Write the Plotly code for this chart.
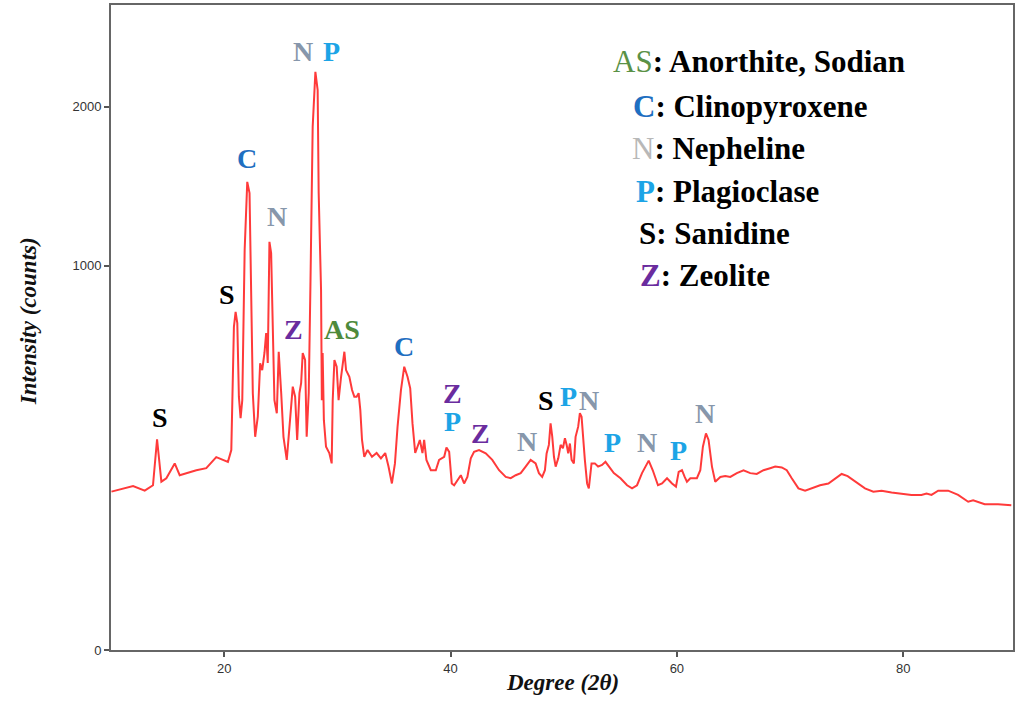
import numpy as np
import plotly.graph_objects as go

# XRD pattern: diffraction angle (degrees 2-theta) and intensity (counts)
two_theta = [
    10.04, 11.95, 12.98, 13.71, 14.07, 14.45, 14.89, 15.63, 16.07, 17.54,
    18.42, 19.30, 20.33, 20.63, 20.86, 21.01, 21.16, 21.30, 21.45, 21.60,
    21.81, 22.04, 22.24, 22.39, 22.53, 22.74, 22.97, 23.18, 23.36, 23.56,
    23.71, 23.85, 24.00, 24.15, 24.29, 24.44, 24.65, 24.82, 25.04, 25.24,
    25.53, 25.77, 26.06, 26.27, 26.45, 26.65, 26.80, 26.94, 27.15, 27.29,
    27.47, 27.62, 27.82, 28.06, 28.26, 28.35, 28.56, 28.63, 28.70, 28.81,
    29.00, 29.29, 29.50, 29.59, 29.74, 29.94, 30.11, 30.33, 30.62, 30.77,
    31.06, 31.30, 31.50, 31.70, 31.88, 32.03, 32.18, 32.38, 32.67, 33.06,
    33.47, 33.85, 34.23, 34.52, 34.82, 35.09, 35.32, 35.62, 35.91, 36.20,
    36.44, 36.64, 36.88, 37.08, 37.29, 37.52, 37.67, 37.87, 38.26, 38.70,
    38.99, 39.44, 39.64, 39.88, 40.11, 40.32, 40.61, 40.91, 41.20, 41.49,
    41.79, 42.08, 42.52, 43.11, 43.69, 44.29, 44.88, 45.32, 45.76, 46.20,
    46.64, 47.08, 47.52, 47.81, 48.10, 48.34, 48.49, 48.69, 48.84, 48.99,
    49.14, 49.29, 49.52, 49.73, 49.93, 50.11, 50.26, 50.40, 50.55, 50.70,
    50.90, 51.05, 51.28, 51.43, 51.58, 51.72, 51.87, 52.07, 52.22, 52.46,
    52.75, 53.04, 53.39, 53.69, 53.99, 54.43, 55.02, 55.60, 56.04, 56.48,
    56.92, 57.51, 57.87, 58.33, 58.69, 59.13, 59.57, 59.92, 60.16, 60.45,
    60.69, 60.89, 61.19, 61.77, 62.07, 62.30, 62.57, 62.80, 63.10, 63.39,
    63.84, 64.28, 64.72, 65.30, 65.89, 66.48, 67.06, 67.65, 68.24, 68.69,
    69.27, 69.71, 70.15, 70.74, 71.33, 71.91, 72.65, 73.39, 73.98, 74.56,
    75.09, 75.74, 76.62, 77.36, 78.09, 78.97, 79.85, 80.73, 81.61, 82.06,
    82.50, 83.09, 83.97, 84.85, 85.74, 86.18, 87.20, 88.38, 89.55,
]

counts = [
    170, 182, 172, 184, 301, 192, 200, 236, 207, 219,
    224, 252, 240, 271, 708, 775, 724, 435, 364, 423,
    1084, 1485, 1415, 894, 447, 308, 369, 557, 531, 598,
    681, 558, 1129, 1068, 638, 423, 380, 603, 447, 308,
    245, 338, 470, 435, 299, 447, 483, 598, 570, 308,
    447, 894, 1855, 2265, 2124, 1415, 878, 423, 598, 358,
    280, 263, 236, 423, 570, 544, 423, 506, 603, 531,
    506, 458, 435, 435, 447, 390, 299, 253, 271, 253,
    263, 249, 263, 228, 188, 236, 338, 458, 544, 506,
    464, 348, 263, 280, 299, 263, 299, 245, 219, 219,
    245, 253, 278, 266, 188, 184, 196, 207, 188, 203,
    249, 266, 271, 262, 245, 219, 203, 200, 207, 212,
    228, 245, 236, 212, 203, 219, 262, 285, 348, 308,
    253, 228, 249, 285, 276, 304, 285, 262, 289, 245,
    236, 308, 338, 380, 369, 299, 245, 188, 177, 236,
    236, 228, 232, 240, 228, 212, 200, 184, 177, 184,
    212, 243, 219, 184, 188, 200, 188, 181, 215, 219,
    203, 192, 200, 200, 219, 280, 318, 299, 228, 192,
    203, 205, 203, 212, 219, 212, 210, 219, 224, 228,
    226, 219, 200, 177, 172, 177, 184, 188, 200, 210,
    205, 192, 177, 170, 172, 168, 166, 163, 163, 166,
    163, 172, 172, 163, 149, 152, 144, 144, 142,
]

# Phase letters marking the peaks
peak_labels = ["S", "S", "C", "N", "Z", "N", "P", "AS", "C", "Z",
               "P", "Z", "N", "S", "P", "N", "P", "N", "P", "N"]
peak_label_theta = [14.31, 20.27, 22.04, 24.68, 26.15, 27.00, 29.44, 30.41, 35.91, 40.17,
                    40.17, 42.67, 46.78, 48.46, 50.40, 52.22, 54.28, 57.36, 60.16, 62.51]
peak_label_counts = [367, 858, 1638, 1276, 697, 2425, 2425, 697, 623, 446,
                     353, 318, 294, 423, 435, 423, 291, 291, 271, 380]

phase_codes = ["AS", "C", "N", "P", "S", "Z"]
phase_names = ["Anorthite, Sodian", "Clinopyroxene", "Nepheline",
               "Plagioclase", "Sanidine", "Zeolite"]

peak_colors = {"AS": "#4e8a3b", "C": "#1f6fc1", "N": "#8797ab",
               "P": "#1ca4e6", "S": "#000000", "Z": "#6a2c9e"}
key_colors = {"AS": "#5a9146", "C": "#1f6fc1", "N": "#b8b8b8",
              "P": "#1ca4e6", "S": "#000000", "Z": "#6a2c9e"}
key_pos = [(0.554, 0.912), (0.576, 0.843), (0.575, 0.778),
           (0.580, 0.711), (0.583, 0.646), (0.584, 0.581)]

serif = "Liberation Serif, Times New Roman, serif"
sans = "Liberation Sans, Arial, sans-serif"

# intensity is shown on a square-root scale
fig = go.Figure()
fig.add_trace(go.Scatter(
    x=two_theta, y=np.sqrt(counts), mode="lines",
    line=dict(color="#ff3a3a", width=2), hoverinfo="skip",
))

annotations = []
for lab, tx, ty in zip(peak_labels, peak_label_theta, peak_label_counts):
    annotations.append(dict(
        x=tx, y=float(np.sqrt(ty)), xref="x", yref="y", text=f"<b>{lab}</b>",
        showarrow=False, font=dict(family=serif, size=28, color=peak_colors[lab]),
    ))

for code, name, (px, py) in zip(phase_codes, phase_names, key_pos):
    weight_code = code if code in ("AS", "N") else f"<b>{code}</b>"
    annotations.append(dict(
        x=px, y=py, xref="paper", yref="paper", xanchor="left", yanchor="middle",
        text=f"<span style='color:{key_colors[code]}'>{weight_code}</span><b>: {name}</b>",
        showarrow=False, font=dict(family=serif, size=31, color="#000000"),
    ))

annotations.append(dict(
    x=0.5, y=-0.073, xref="paper", yref="paper", text="<b><i>Degree (2θ)</i></b>",
    showarrow=False, font=dict(family=serif, size=23, color="#111111"),
))
annotations.append(dict(
    x=-0.108, y=0.51, xref="paper", yref="paper", text="<b><i>Intensity (counts)</i></b>",
    textangle=-90, showarrow=False, font=dict(family=serif, size=23, color="#111111"),
))

fig.update_layout(
    width=1017, height=725,
    margin=dict(l=111, r=2, t=5, b=75),
    plot_bgcolor="white", paper_bgcolor="white",
    showlegend=False,
    annotations=annotations,
    xaxis=dict(
        range=[10, 89.7], tickvals=[20, 40, 60, 80],
        ticks="outside", ticklen=5, tickwidth=1.5, tickcolor="#555555",
        showline=True, linecolor="#666666", linewidth=2, mirror=True,
        showgrid=False, zeroline=False,
        tickfont=dict(family=sans, size=13, color="#333333"),
    ),
    yaxis=dict(
        range=[0, 53.1],
        tickvals=[0, float(np.sqrt(1000)), float(np.sqrt(2000))],
        ticktext=["0", "1000", "2000"],
        ticks="outside", ticklen=5, tickwidth=1.5, tickcolor="#555555",
        showline=True, linecolor="#666666", linewidth=2, mirror=True,
        showgrid=False, zeroline=False,
        tickfont=dict(family=sans, size=13, color="#333333"),
    ),
)

fig.write_html("out.html")
